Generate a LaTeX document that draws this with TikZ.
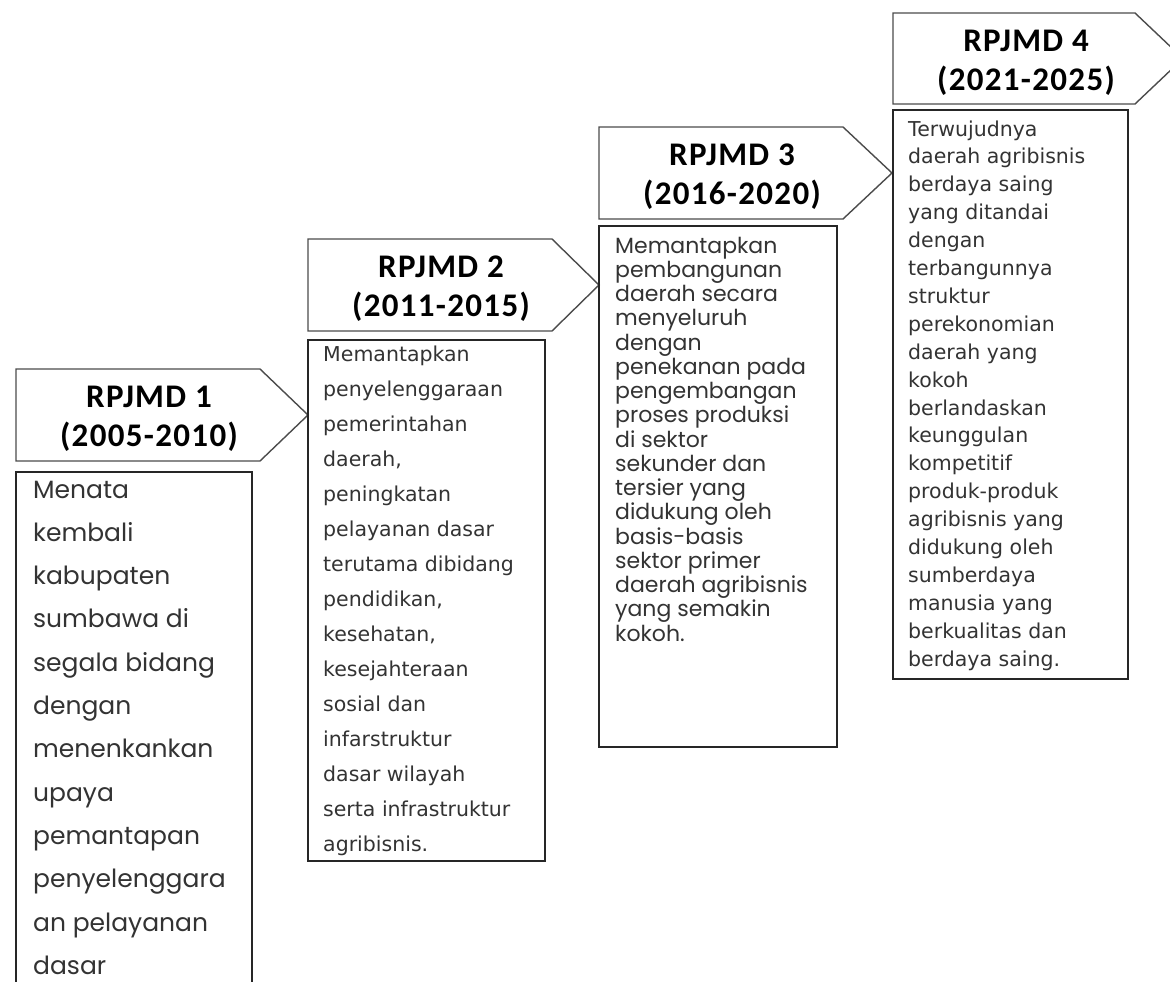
\documentclass[tikz,border=0pt]{standalone}
\usepackage{fontspec}
\setmainfont{Carlito}
\newfontfamily\headfont[LetterSpace=4]{Carlito}
\newfontfamily\geofont{Poppins}
\newfontfamily\tahfont{DejaVu Sans}

\tikzset{
    headline/.style={draw=black!70, line width=1.4pt, line join=miter},
    bodyline/.style={draw=black!85, line width=1.8pt},
    head/.style={font=\headfont\bfseries\fontsize{33}{39}\selectfont, align=center, inner sep=0pt},
    txtA/.style={anchor=base west, inner sep=0pt, text=black!80, font=\geofont\fontsize{25}{30}\selectfont},
    txtB/.style={anchor=base west, inner sep=0pt, text=black!80, font=\tahfont\fontsize{20.5}{24}\selectfont},
    txtC/.style={anchor=base west, inner sep=0pt, text=black!80, font=\geofont\fontsize{22}{26}\selectfont},
    txtD/.style={anchor=base west, inner sep=0pt, text=black!80, font=\tahfont\fontsize{20.5}{24}\selectfont},
}

\begin{document}
\begin{tikzpicture}[x=1pt, y=-1pt]
    \useasboundingbox (0,0) rectangle (1170,982);
    \fill[white] (0,0) rectangle (1170,982);
    \clip (0,0) rectangle (1170,982);

    % RPJMD 1
    \draw[headline] (16,369) -- (260,369) -- (308,415) -- (260,461) -- (16,461) -- cycle;
    \node[head] (h1) at (149,419) {RPJMD 1\\(2005-2010)};
    \draw[bodyline] (16,472) rectangle (252,1000);
    \foreach \t [count=\i from 0] in {Menata, kembali, kabupaten, sumbawa di, segala bidang, dengan,
        menenkankan, upaya, pemantapan, penyelenggara, an pelayanan, dasar}
        \node[txtA] (a\i) at (33,498+43.3*\i) {\t};

    % RPJMD 2
    \draw[headline] (308,239) -- (552,239) -- (599,285) -- (552,331) -- (308,331) -- cycle;
    \node[head] (h2) at (441,289) {RPJMD 2\\(2011-2015)};
    \draw[bodyline] (308,340) rectangle (545,861);
    \foreach \t [count=\i from 0] in {Memantapkan, penyelenggaraan, pemerintahan, {daerah,}, peningkatan,
        pelayanan dasar, terutama dibidang, {pendidikan,}, {kesehatan,}, kesejahteraan, sosial dan,
        infarstruktur, dasar wilayah, serta infrastruktur, agribisnis.}
        \node[txtB] (b\i) at (323,361+35*\i) {\t};

    % RPJMD 3
    \draw[headline] (599,127) -- (843,127) -- (892,173) -- (843,219) -- (599,219) -- cycle;
    \node[head] (h3) at (732,177) {RPJMD 3\\(2016-2020)};
    \draw[bodyline] (599,226) rectangle (837,747);
    \foreach \t [count=\i from 0] in {Memantapkan, pembangunan, daerah secara, menyeluruh, dengan,
        penekanan pada, pengembangan, proses produksi, di sektor, sekunder dan, tersier yang,
        didukung oleh, basis-basis, sektor primer, daerah agribisnis, yang semakin, kokoh.}
        \node[txtC] (c\i) at (615,253+24.25*\i) {\t};

    % RPJMD 4
    \draw[headline] (893,13) -- (1135,13) -- (1183,58.5) -- (1135,104) -- (893,104) -- cycle;
    \node[head] (h4) at (1026,62.5) {RPJMD 4\\(2021-2025)};
    \draw[bodyline] (893,110) rectangle (1128,679);
    \foreach \t [count=\i from 0] in {Terwujudnya, daerah agribisnis, berdaya saing, yang ditandai, dengan,
        terbangunnya, struktur, perekonomian, daerah yang, kokoh, berlandaskan, keunggulan,
        kompetitif, produk-produk, agribisnis yang, didukung oleh, sumberdaya, manusia yang,
        berkualitas dan, berdaya saing.}
        \node[txtD] (d\i) at (908,136+27.9*\i) {\t};
\end{tikzpicture}
\end{document}
